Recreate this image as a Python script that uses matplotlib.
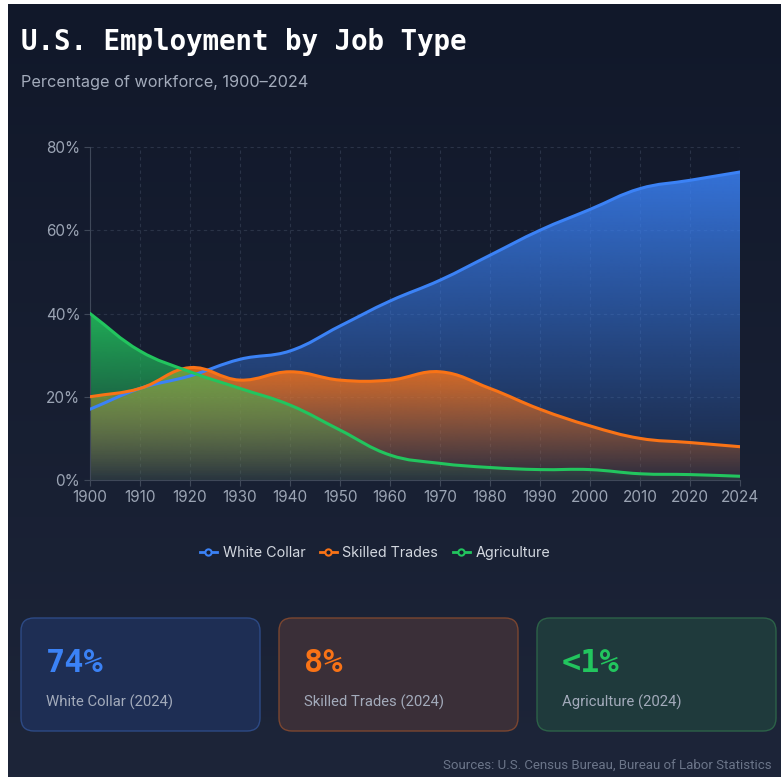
import numpy as np
import matplotlib
matplotlib.use("Agg")
import matplotlib.pyplot as plt
from matplotlib.path import Path
from matplotlib.patches import PathPatch, FancyBboxPatch
from matplotlib.lines import Line2D
from matplotlib.colors import to_rgb

years = ["1900", "1910", "1920", "1930", "1940", "1950", "1960",
         "1970", "1980", "1990", "2000", "2010", "2020", "2024"]
white_collar = [17, 22, 25, 29, 31, 37, 43, 48, 54, 60, 65, 70, 72, 74]
skilled_trades = [20, 22, 27, 24, 26, 24, 24, 26, 22, 17, 13, 10, 9, 8]
agriculture = [40, 31, 26, 22, 18, 12, 6, 4, 3, 2.5, 2.5, 1.5, 1.3, 0.9]

series_names = ["White Collar", "Skilled Trades", "Agriculture"]
series_colors = ["#3b82f6", "#f97316", "#22c55e"]

cards = [("74%", "White Collar (2024)"),
         ("8%", "Skilled Trades (2024)"),
         ("<1%", "Agriculture (2024)")]
card_fill = ["#1e2e54", "#3a2f38", "#1f3a3c"]
card_edge = ["#2d4a85", "#7b4630", "#2c6248"]

W, H = 781, 777
BG_TOP = "#11182a"
BG_BOT = "#1d2539"
MONO = "DejaVu Sans Mono"
SANS = "Inter"
COND = "Roboto"

fig = plt.figure(figsize=(W / 100, H / 100), dpi=100)
fig.patch.set_facecolor("white")

# page layer in pixel coordinates
page = fig.add_axes([0, 0, 1, 1])
page.axis("off")

top, bot = np.array(to_rgb(BG_TOP)), np.array(to_rgb(BG_BOT))
t = np.linspace(0, 1, 256)[:, None]
grad = (top * (1 - t) + bot * t)[:, None, :]
page.imshow(grad, extent=[8, W, H, 4], aspect="auto", zorder=0)
page.set_xlim(0, W)
page.set_ylim(H, 0)

page.text(21, 42, "U.S. Employment by Job Type", fontsize=19.8, fontweight="bold",
          family=MONO, color="white", va="center", ha="left")
page.text(21, 82, "Percentage of workforce, 1900\u20132024", fontsize=11.7,
          family=SANS, color="#a3abbb", va="center", ha="left")

# summary cards
for i, ((value, label), fc, ec, col) in enumerate(zip(cards, card_fill, card_edge, series_colors)):
    x0 = 21 + i * 258
    box = FancyBboxPatch((x0, 618), 239, 113, boxstyle="round,pad=0,rounding_size=13",
                         facecolor=fc, edgecolor=ec, linewidth=1.0, zorder=2)
    page.add_patch(box)
    page.text(x0 + 25, 663, value, fontsize=23, fontweight="bold", family=MONO,
              color=col, va="center", ha="left", zorder=3)
    page.text(x0 + 25, 702, label, fontsize=10.7, family=COND,
              color="#a3abbb", va="center", ha="left", zorder=3)

page.text(772, 765, "Sources: U.S. Census Bureau, Bureau of Labor Statistics",
          fontsize=9.5, family=COND, color="#6b7589", va="center", ha="right")

# chart
ax = fig.add_axes([90 / W, 1 - 480 / H, 650 / W, 333 / H])
ax.set_facecolor("none")
x = np.arange(len(years))
ax.set_xlim(0, len(years) - 1)
ax.set_ylim(0, 80)
ax.set_xticks(x)
ax.set_xticklabels(years)
ax.set_yticks([0, 20, 40, 60, 80])
ax.set_yticklabels([f"{v}%" for v in [0, 20, 40, 60, 80]])
ax.tick_params(colors="#3f4859", labelcolor="#9ba4b4", labelsize=11, length=4, pad=3)
for lbl in ax.get_xticklabels() + ax.get_yticklabels():
    lbl.set_family(SANS)
ax.grid(True, color="#2a3347", linestyle=(0, (3, 3)), linewidth=0.8)
ax.set_axisbelow(True)
for s in ["top", "right"]:
    ax.spines[s].set_visible(False)
for s in ["left", "bottom"]:
    ax.spines[s].set_color("#3f4859")


def smooth_verts(xs, ys, tension=0.4):
    # bezier control points like a tensioned spline, worked out in screen space
    pts = ax.transData.transform(np.column_stack([xs, ys]))
    n = len(pts)
    cp_prev, cp_next = [], []
    for i in range(n):
        p0 = pts[max(i - 1, 0)]
        p1 = pts[i]
        p2 = pts[min(i + 1, n - 1)]
        d01 = np.hypot(*(p1 - p0))
        d12 = np.hypot(*(p2 - p1))
        tot = d01 + d12
        s01 = d01 / tot if tot else 0
        s12 = d12 / tot if tot else 0
        cp_prev.append(p1 - tension * s01 * (p2 - p0))
        cp_next.append(p1 + tension * s12 * (p2 - p0))
    verts = [pts[0]]
    for i in range(n - 1):
        verts += [cp_next[i], cp_prev[i + 1], pts[i + 1]]
    return ax.transData.inverted().transform(np.array(verts))


for ys, col in zip([white_collar, skilled_trades, agriculture], series_colors):
    verts = smooth_verts(x, ys)
    ncurve = len(verts) - 1
    line_codes = [Path.MOVETO] + [Path.CURVE4] * ncurve
    fill_verts = np.vstack([verts, [[x[-1], 0], [x[0], 0], [x[0], ys[0]]]])
    fill_codes = line_codes + [Path.LINETO, Path.LINETO, Path.CLOSEPOLY]
    fill_patch = PathPatch(Path(fill_verts, fill_codes), facecolor="none",
                           edgecolor="none", transform=ax.transData)
    ax.add_patch(fill_patch)

    # vertical fade from the series peak down to the baseline
    rgb = np.array(to_rgb(col))
    img = np.zeros((256, 1, 4))
    img[:, 0, :3] = rgb
    img[:, 0, 3] = np.linspace(0.07, 0.85, 256)
    im = ax.imshow(img, extent=[x[0], x[-1], 0, max(ys)], origin="lower",
                   aspect="auto", zorder=2, interpolation="bilinear")
    im.set_clip_path(fill_patch)

    ax.add_patch(PathPatch(Path(verts, line_codes), facecolor="none", edgecolor=col,
                           linewidth=2.2, zorder=3, capstyle="round", joinstyle="round"))

ax.set_xlim(0, len(years) - 1)
ax.set_ylim(0, 80)

handles = [Line2D([0], [0], color=c, lw=2, marker="o", ms=4.5,
                  markerfacecolor="#161d30", markeredgecolor=c, markeredgewidth=1.5)
           for c in series_colors]
fig.legend(handles, series_names, loc="center", bbox_to_anchor=(375 / W, 1 - 553 / H),
           ncol=3, frameon=False, labelcolor="#d3d8e0", handlelength=1.2,
           handletextpad=0.4, columnspacing=1.0, prop={"family": SANS, "size": 10.3})

fig.savefig("out.png", dpi=100)
